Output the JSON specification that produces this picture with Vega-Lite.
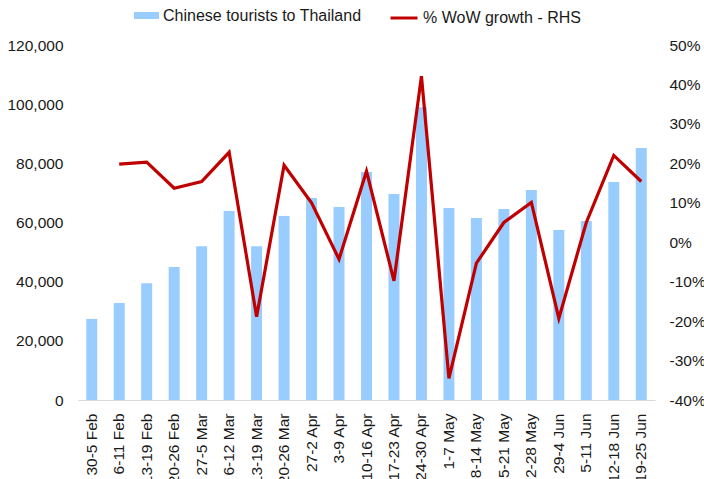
{
  "$schema": "https://vega.github.io/schema/vega-lite/v6.json",
  "autosize": "none",
  "width": 577,
  "height": 355,
  "padding": {"left": 78, "top": 45, "right": 49, "bottom": 79},
  "background": "white",
  "config": {
    "view": {"stroke": null},
    "font": "Liberation Sans",
    "axis": {"labelFont": "Liberation Sans", "labelFontSize": 15.5, "labelColor": "#1a1a1a", "grid": false, "ticks": false, "tickSize": 0, "title": null},
    "legend": {"labelFont": "Liberation Sans", "labelFontSize": 16, "labelColor": "#1a1a1a", "padding": 0, "title": null, "labelLimit": 0}
  },
  "data": {
    "values": [
      {"week": "30-5 Feb", "tourists": 27400, "growth": null},
      {"week": "6-11 Feb", "tourists": 32800, "growth": 19.8},
      {"week": "13-19 Feb", "tourists": 39500, "growth": 20.3},
      {"week": "20-26 Feb", "tourists": 45000, "growth": 13.7},
      {"week": "27-5 Mar", "tourists": 52000, "growth": 15.4},
      {"week": "6-12 Mar", "tourists": 63900, "growth": 22.8},
      {"week": "13-19 Mar", "tourists": 52000, "growth": -18.9},
      {"week": "20-26 Mar", "tourists": 62200, "growth": 19.5},
      {"week": "27-2 Apr", "tourists": 68300, "growth": 10.0},
      {"week": "3-9 Apr", "tourists": 65200, "growth": -4.3},
      {"week": "10-16 Apr", "tourists": 77100, "growth": 18.0},
      {"week": "17-23 Apr", "tourists": 69600, "growth": -9.8},
      {"week": "24-30 Apr", "tourists": 99000, "growth": 42.1},
      {"week": "1-7 May", "tourists": 64900, "growth": -34.5},
      {"week": "8-14 May", "tourists": 61500, "growth": -5.3},
      {"week": "15-21 May", "tourists": 64600, "growth": 5.0},
      {"week": "22-28 May", "tourists": 71000, "growth": 10.1},
      {"week": "29-4 Jun", "tourists": 57500, "growth": -19.3},
      {"week": "5-11 Jun", "tourists": 60500, "growth": 5.0},
      {"week": "12-18 Jun", "tourists": 73700, "growth": 22.0},
      {"week": "19-25 Jun", "tourists": 85200, "growth": 15.4}
    ]
  },
  "encoding": {
    "x": {
      "field": "week", "type": "nominal", "sort": null,
      "scale": {"paddingInner": 0.6, "paddingOuter": 0.3},
      "axis": {"labelAngle": -90, "labelPadding": 13, "domainColor": "#d9d9d9", "domainWidth": 1, "labelOverlap": false}
    }
  },
  "layer": [
    {
      "mark": {"type": "bar"},
      "encoding": {
        "y": {
          "field": "tourists", "type": "quantitative",
          "scale": {"domain": [0, 120000], "nice": false},
          "axis": {"values": [0, 20000, 40000, 60000, 80000, 100000, 120000], "format": ",.0f", "domain": false, "labelPadding": 15}
        },
        "fill": {
          "datum": "Chinese tourists to Thailand",
          "scale": {"range": ["#99CCFF"]},
          "legend": {"orient": "none", "legendX": 56, "legendY": -42, "symbolType": "M-1,-0.28L1,-0.28L1,0.28L-1,0.28Z", "symbolSize": 625, "symbolStrokeWidth": 0, "labelOffset": 4}
        }
      }
    },
    {
      "mark": {"type": "line", "strokeWidth": 3.2, "strokeJoin": "miter"},
      "encoding": {
        "y": {
          "field": "growth", "type": "quantitative",
          "scale": {"domain": [-40, 50], "nice": false, "zero": false},
          "axis": {"orient": "right", "values": [-40, -30, -20, -10, 0, 10, 20, 30, 40, 50], "labelExpr": "datum.value + '%'", "domain": false, "labelPadding": 14}
        },
        "stroke": {
          "datum": "% WoW growth - RHS",
          "scale": {"range": ["#C00000"]},
          "legend": {"orient": "none", "legendX": 311, "legendY": -42, "symbolType": "stroke", "symbolSize": 729, "symbolStrokeWidth": 3, "labelOffset": 4}
        }
      }
    }
  ],
  "resolve": {"scale": {"y": "independent"}}
}
